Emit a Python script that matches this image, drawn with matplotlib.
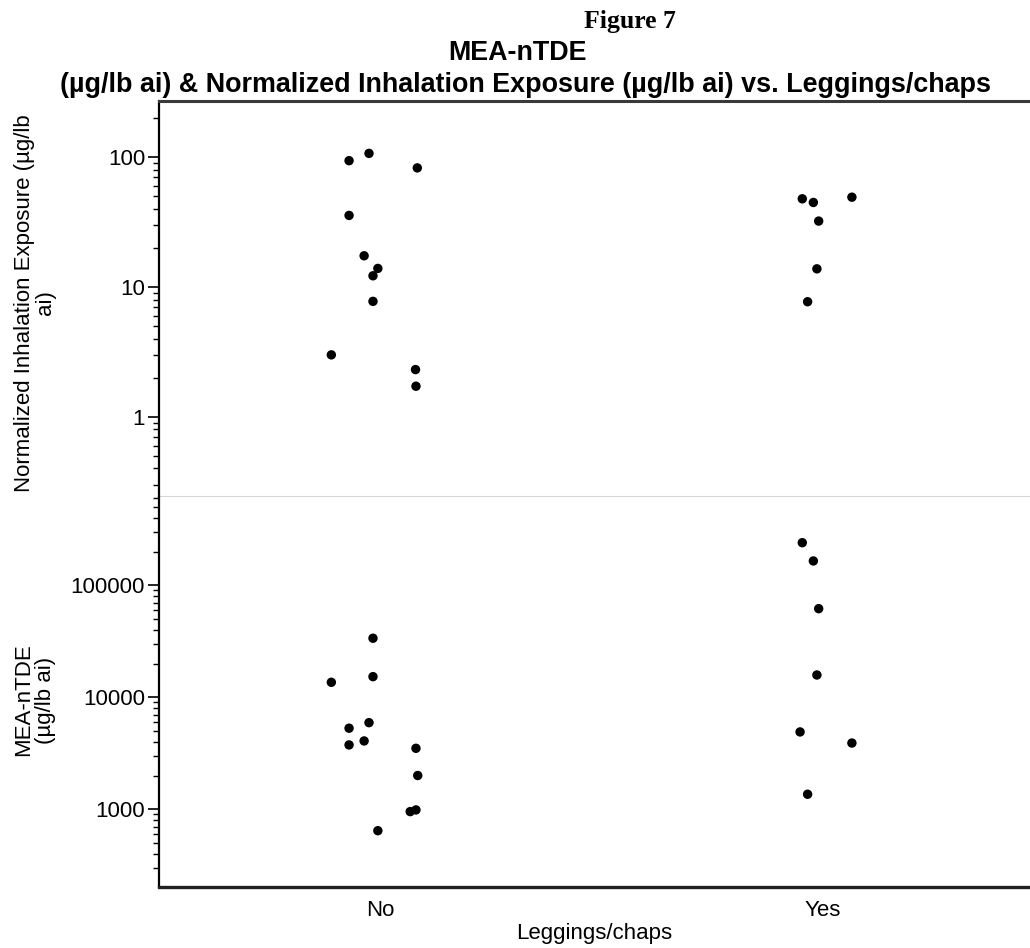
import matplotlib
matplotlib.use("Agg")
import matplotlib.pyplot as plt
from matplotlib.ticker import LogLocator, FixedLocator, FixedFormatter, NullFormatter
import numpy as np

categories = ["No", "Yes"]

# Normalized Inhalation Exposure (ug/lb ai)
inh_no = [94, 107, 35.6, 17.4, 13.9, 12.2, 7.75, 3.0, 82.7, 2.31, 1.72]
inh_no_jit = [-0.070, -0.025, -0.070, -0.036, -0.005, -0.016, -0.016, -0.110, 0.084, 0.080, 0.081]
inh_yes = [47.8, 44.8, 49.2, 32.2, 13.8, 7.7]
inh_yes_jit = [-0.047, -0.022, 0.065, -0.010, -0.014, -0.035]

# MEA-nTDE (ug/lb ai)
mea_no = [33650, 15270, 13600, 5930, 5290, 4070, 3750, 643, 3500, 2000, 952, 986]
mea_no_jit = [-0.016, -0.016, -0.110, -0.025, -0.070, -0.036, -0.070, -0.005, 0.081, 0.085, 0.068, 0.081]
mea_yes = [240000, 164800, 61800, 15800, 4900, 3900, 1360]
mea_yes_jit = [-0.047, -0.022, -0.010, -0.014, -0.052, 0.065, -0.035]

inh_ticks = [1, 10, 100]
inh_tick_labels = ["1", "10", "100"]
mea_ticks = [1000, 10000, 100000]
mea_tick_labels = ["1000", "10000", "100000"]

plt.rcParams['font.family'] = ['Liberation Sans', 'DejaVu Sans']

W, H = 1030, 948
fig = plt.figure(figsize=(W / 100, H / 100), dpi=100)

left = 159 / W
width = 1 - left
ax1 = fig.add_axes([left, 1 - 497 / H, width, (497 - 101) / H])
ax2 = fig.add_axes([left, 1 - 887 / H, width, (887 - 497) / H])

xpos = {c: i for i, c in enumerate(categories)}

def draw(ax, no_vals, no_jit, yes_vals, yes_jit):
    ax.scatter([xpos["No"] + j for j in no_jit], no_vals, s=46, color="black",
               edgecolors="none", zorder=3)
    ax.scatter([xpos["Yes"] + j for j in yes_jit], yes_vals, s=46, color="black",
               edgecolors="none", zorder=3)
    ax.set_yscale("log")
    ax.set_xlim(-0.499, 1.467)
    ax.yaxis.set_minor_locator(LogLocator(base=10, subs=np.arange(2, 10)))
    ax.yaxis.set_minor_formatter(NullFormatter())
    ax.tick_params(axis="y", which="major", direction="out", length=8, width=1.2,
                   labelsize=16, colors="black", pad=2)
    ax.tick_params(axis="y", which="minor", direction="out", length=4, width=1.0)
    ax.spines["right"].set_visible(False)
    ax.spines["left"].set_linewidth(1.6)
    ax.spines["left"].set_color("black")

draw(ax1, inh_no, inh_no_jit, inh_yes, inh_yes_jit)
draw(ax2, mea_no, mea_no_jit, mea_yes, mea_yes_jit)

ax1.set_ylim(0.241, 271)
ax1.yaxis.set_major_locator(FixedLocator(inh_ticks))
ax1.yaxis.set_major_formatter(FixedFormatter(inh_tick_labels))
ax1.set_xticks([])
ax1.spines["top"].set_color("#3a3a3a")
ax1.spines["top"].set_linewidth(2.2)
ax1.spines["bottom"].set_color("#d4d4d4")
ax1.spines["bottom"].set_linewidth(1.5)

ax2.set_ylim(202, 614000)
ax2.yaxis.set_major_locator(FixedLocator(mea_ticks))
ax2.yaxis.set_major_formatter(FixedFormatter(mea_tick_labels))
ax2.spines["top"].set_visible(False)
ax2.spines["bottom"].set_linewidth(2.4)
ax2.spines["bottom"].set_color("#202020")
ax2.set_xticks([xpos[c] for c in categories])
ax2.set_xticklabels(categories)
ax2.tick_params(axis="x", length=0, labelsize=16, pad=9)
ax2.set_xlabel("Leggings/chaps", fontsize=16, labelpad=2)

fig.text(630 / W, 1 - 28 / H, "Figure 7", family="Liberation Serif", weight="bold",
         fontsize=18.5, ha="center", va="baseline")
fig.text(517 / W, 1 - 60 / H, "MEA-nTDE", weight="bold", fontsize=19.4,
         ha="center", va="baseline")
fig.text(526 / W, 1 - 92 / H,
         "(µg/lb ai) & Normalized Inhalation Exposure (µg/lb ai) vs. Leggings/chaps",
         weight="bold", fontsize=19.4, ha="center", va="baseline")

fig.text(35 / W, 1 - 303 / H, "Normalized Inhalation Exposure (µg/lb\nai)",
         rotation=90, fontsize=16, ha="center", va="center", multialignment="center",
         linespacing=1.05)
fig.text(35 / W, 1 - 700 / H, "MEA-nTDE\n(µg/lb ai)",
         rotation=90, fontsize=16, ha="center", va="center", multialignment="center",
         linespacing=1.05)

fig.savefig("out.png", dpi=100)
